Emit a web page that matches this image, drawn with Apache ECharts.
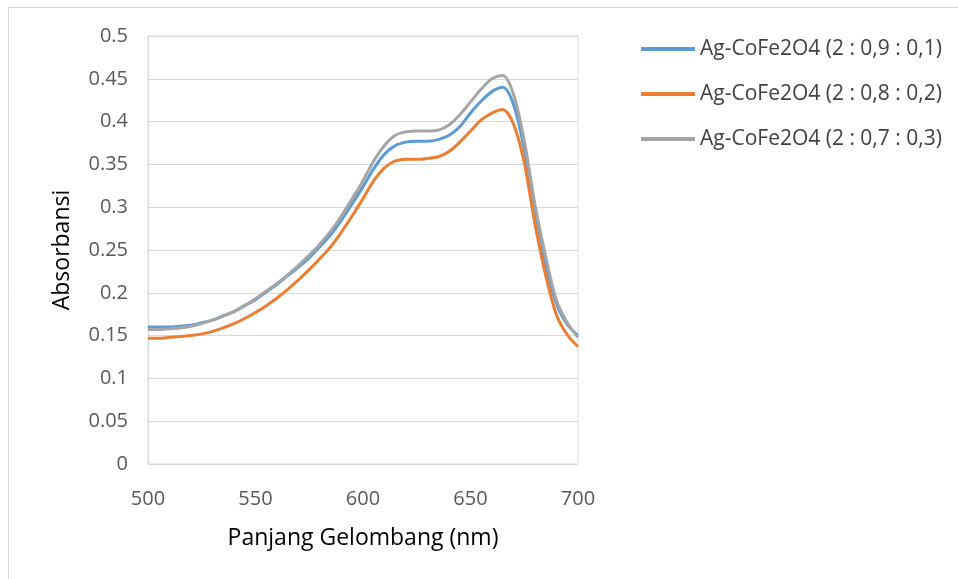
<!DOCTYPE html>
<html>
<head>
<meta charset="utf-8">
<title>Absorbansi Ag-CoFe2O4</title>
<script src="https://cdn.jsdelivr.net/npm/echarts@6/dist/echarts.min.js"></script>
<style>
  html, body { margin: 0; padding: 0; background: #fff; }
  #chart { width: 958px; height: 579px; }
</style>
</head>
<body>
<div id="chart"></div>
<script>
// panjang gelombang (nm), tiap 5 nm
const wavelengths = [500, 505, 510, 515, 520, 525, 530, 535, 540, 545, 550, 555, 560, 565, 570, 575, 580, 585, 590, 595, 600,
  605, 610, 615, 620, 625, 630, 635, 640, 645, 650, 655, 660, 665, 670, 675, 680, 685, 690, 695, 700];

const seriesNames = ['Ag-CoFe2O4 (2 : 0,9 : 0,1)', 'Ag-CoFe2O4 (2 : 0,8 : 0,2)', 'Ag-CoFe2O4 (2 : 0,7 : 0,3)'];

const abs091 = [0.160, 0.160, 0.160, 0.161, 0.162, 0.165, 0.168, 0.173, 0.178, 0.185, 0.192, 0.201, 0.210, 0.220, 0.230, 0.241, 0.254, 0.268, 0.285, 0.304, 0.324,
  0.345, 0.362, 0.372, 0.376, 0.377, 0.377, 0.379, 0.384, 0.394, 0.410, 0.424, 0.435, 0.440, 0.420, 0.368, 0.297, 0.233, 0.187, 0.163, 0.150];

const abs082 = [0.147, 0.147, 0.148, 0.149, 0.150, 0.152, 0.155, 0.159, 0.164, 0.170, 0.177, 0.185, 0.194, 0.204, 0.215, 0.227, 0.240, 0.254, 0.271, 0.290, 0.310,
  0.331, 0.346, 0.354, 0.356, 0.356, 0.357, 0.359, 0.365, 0.376, 0.389, 0.402, 0.410, 0.414, 0.397, 0.352, 0.280, 0.220, 0.174, 0.151, 0.137];

const abs073 = [0.157, 0.157, 0.158, 0.159, 0.161, 0.164, 0.168, 0.173, 0.178, 0.185, 0.193, 0.202, 0.211, 0.221, 0.232, 0.244, 0.257, 0.272, 0.290, 0.310, 0.331,
  0.354, 0.372, 0.384, 0.388, 0.389, 0.389, 0.390, 0.396, 0.408, 0.423, 0.438, 0.450, 0.454, 0.432, 0.378, 0.303, 0.242, 0.191, 0.165, 0.148];

const colors = ['#5b9bd5', '#ed7d31', '#a5a5a5'];

function pairs(ys) {
  return wavelengths.map((x, i) => [x, ys[i]]);
}

const myChart = echarts.init(document.getElementById('chart'));

const font = 'Open Sans, Liberation Sans, sans-serif';

const option = {
  animation: false,
  backgroundColor: '#fff',
  color: colors,
  graphic: [{
    type: 'rect',
    shape: { x: 8.5, y: 7.5, width: 1000, height: 1000 },
    style: { fill: 'none', stroke: '#d9d9d9', lineWidth: 1 },
    silent: true
  }],
  grid: {
    left: 148, right: 380, top: 36, bottom: 115,
    show: true, borderColor: '#d9d9d9', borderWidth: 1
  },
  legend: {
    orient: 'vertical',
    left: 636, top: 33,
    itemWidth: 54, itemHeight: 4, itemGap: 23,
    icon: 'rect',
    textStyle: { fontFamily: font, fontSize: 21, lineHeight: 22, color: '#404040' },
    data: seriesNames
  },
  xAxis: {
    type: 'value',
    min: 500, max: 700, interval: 50,
    name: 'Panjang Gelombang (nm)',
    nameLocation: 'middle', nameGap: 63,
    nameTextStyle: { fontFamily: font, fontSize: 23, color: '#000' },
    axisLine: { show: true, lineStyle: { color: '#d9d9d9' } },
    axisTick: { show: false },
    axisLabel: { fontFamily: font, fontSize: 20, color: '#595959', margin: 25 },
    splitLine: { show: false }
  },
  yAxis: {
    type: 'value',
    min: 0, max: 0.5, interval: 0.05,
    name: 'Absorbansi',
    nameLocation: 'middle', nameGap: 74, nameRotate: 90,
    nameTextStyle: { fontFamily: font, fontSize: 23, color: '#000' },
    axisLine: { show: true, lineStyle: { color: '#d9d9d9' } },
    axisTick: { show: false },
    axisLabel: {
      fontFamily: font, fontSize: 20, color: '#595959', margin: 20,
      formatter: v => String(Math.round(v * 100) / 100)
    },
    splitLine: { show: true, lineStyle: { color: '#d9d9d9', width: 1 } }
  },
  series: [
    { name: seriesNames[0], type: 'line', data: pairs(abs091) },
    { name: seriesNames[1], type: 'line', data: pairs(abs082) },
    { name: seriesNames[2], type: 'line', data: pairs(abs073) }
  ].map(s => Object.assign(s, {
    showSymbol: false,
    smooth: 0.3,
    lineStyle: { width: 3 }
  }))
};

myChart.setOption(option);
</script>
</body>
</html>
